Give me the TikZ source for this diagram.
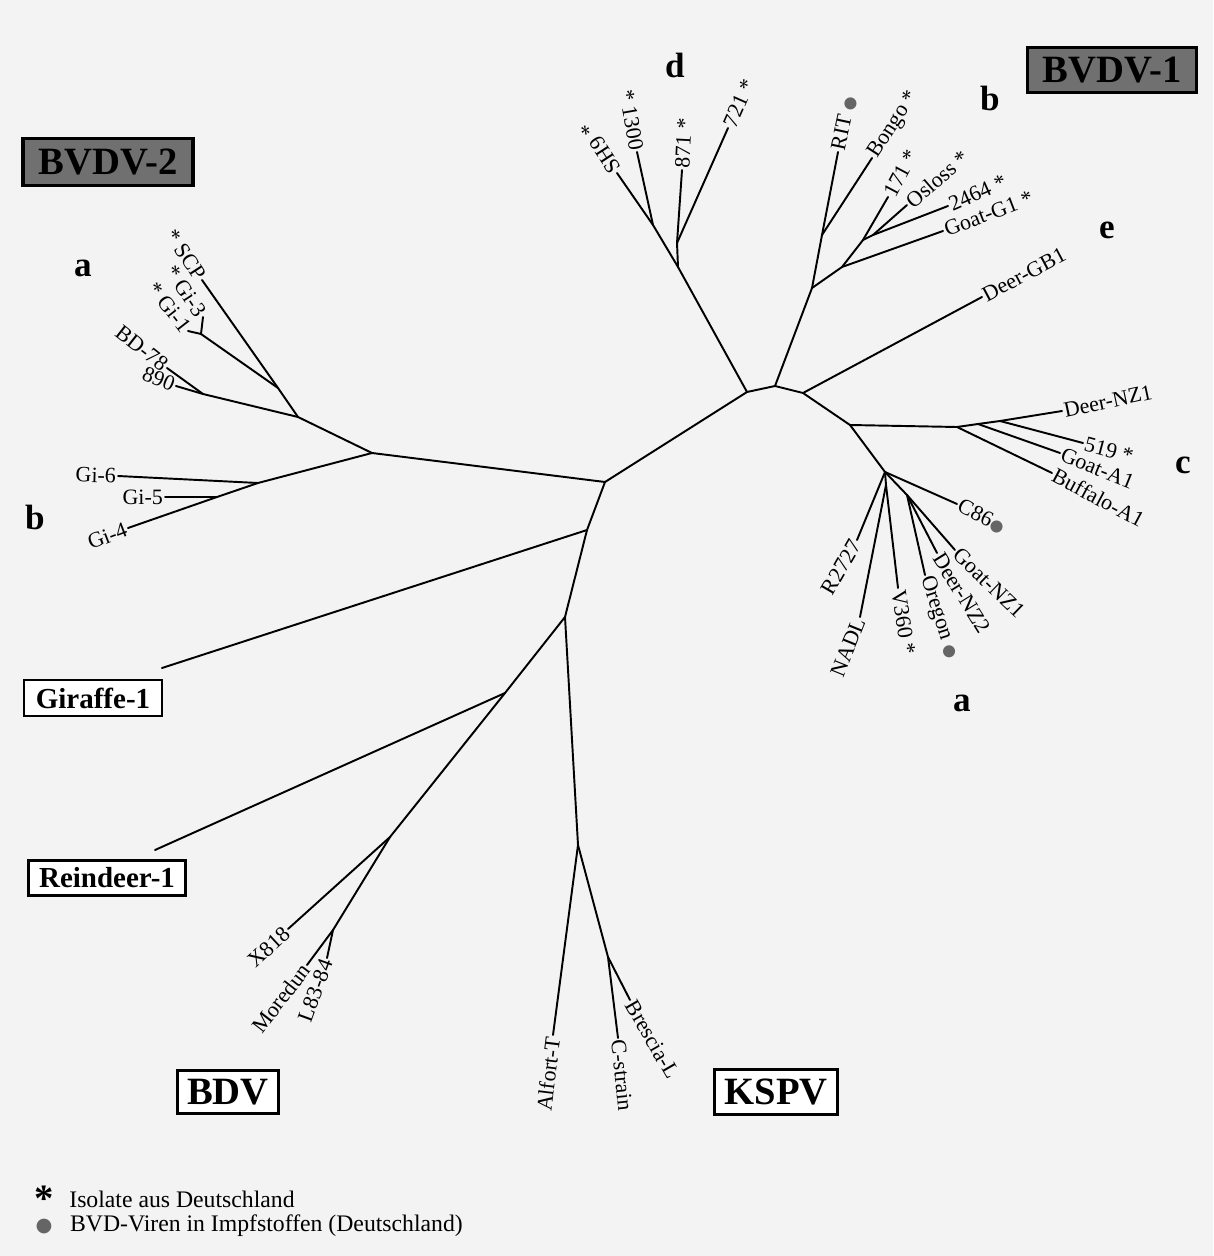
\documentclass[tikz,border=0pt]{standalone}
\usepackage{fontspec}
\setmainfont{Liberation Serif}
\newfontfamily\symfont{DejaVu Sans}
\usepackage{tikz}
\usetikzlibrary{positioning}
\definecolor{paper}{HTML}{F3F3F3}
\definecolor{boxgrey}{HTML}{707070}
\definecolor{dotgrey}{HTML}{656565}
\newcommand{\vacdot}{{\symfont\fontsize{9}{9}\selectfont\textcolor{dotgrey}{●}}}

\begin{document}
\begin{tikzpicture}[x=0.02cm, y=-0.02cm, branch/.style={line width=1.1pt, line cap=round, line join=round}, leaf/.style={inner sep=1pt, font=\fontsize{12.5}{14}\selectfont}, outleaf/.style={leaf, anchor=west}, inleaf/.style={leaf, anchor=east}, clade/.style={inner sep=0pt, font=\fontsize{20}{22}\selectfont\bfseries}, greybox/.style={draw=black, line width=1.8pt, fill=boxgrey, inner sep=0pt, font=\fontsize{22}{24}\selectfont\bfseries}, whitebox/.style={draw=black, line width=1.4pt, fill=white, inner sep=0pt, font=\fontsize{16.5}{18}\selectfont\bfseries}, bigbox/.style={whitebox, font=\fontsize{22}{24}\selectfont\bfseries}, legendtext/.style={inner sep=0pt, font=\fontsize{13.5}{15}\selectfont}]

    \fill[paper] (0,0) rectangle (1213,1256);
    \useasboundingbox (0,0) rectangle (1213,1256);

    %Group boxes
    \node[greybox, minimum width=3.4cm, minimum height=0.94cm](bvdv2_box) at (108,162) {BVDV-2};
    \node[greybox, minimum width=3.38cm, minimum height=0.9cm](bvdv1_box) at (1112,70) {BVDV-1};
    \node[whitebox, minimum width=2.76cm, minimum height=0.72cm](giraffe_box) at (93,698) {Giraffe-1};
    \node[whitebox, minimum width=3.14cm, minimum height=0.7cm](reindeer_box) at (107,878) {Reindeer-1};
    \node[bigbox, minimum width=2.02cm, minimum height=0.86cm](bdv_box) at (228,1092) {BDV};
    \node[bigbox, minimum width=2.46cm, minimum height=0.9cm](kspv_box) at (776,1092) {KSPV};

    %Clade letters
    \node[clade](tag_b2a) at (83,268) {a};
    \node[clade](tag_b2b) at (35,517) {b};
    \node[clade](tag_d) at (675,65) {d};
    \node[clade](tag_b1b) at (990,98) {b};
    \node[clade](tag_e) at (1107,230) {e};
    \node[clade](tag_c) at (1183,465) {c};
    \node[clade](tag_b1a) at (962,703) {a};

    %Inner points
    \coordinate (bvdv2_root) at (372,453);
    \coordinate (hub_left) at (605,482);
    \coordinate (hub_top) at (747,392);
    \coordinate (hub_b) at (775,386);
    \coordinate (hub_e) at (803,393);
    \coordinate (hub_c) at (850,425);
    \coordinate (clade_a) at (885,472);
    \coordinate (hub_giraffe) at (587,530);
    \coordinate (hub_low) at (565,617);
    \coordinate (hub_reindeer) at (505,693);
    \coordinate (bdv_root) at (390,837);
    \coordinate (bdv_sub) at (333,930);
    \coordinate (kspv_root) at (578,845);
    \coordinate (kspv_sub) at (608,957);
    \coordinate (b2a_root) at (298,417);
    \coordinate (b2a_scp) at (278,388);
    \coordinate (b2a_gi) at (201,334);
    \coordinate (b2a_bd) at (203,394);
    \coordinate (b2b_root) at (258,483);
    \coordinate (b2b_sub) at (217,497);
    \coordinate (d_root) at (678,267);
    \coordinate (d_left) at (653,225);
    \coordinate (d_right) at (677,243);
    \coordinate (b1_root) at (812,288);
    \coordinate (b1_rit) at (822,235);
    \coordinate (b1_goat) at (842,267);
    \coordinate (b1_171) at (863,240);
    \coordinate (b1_osloss) at (873,235);
    \coordinate (c_root) at (957,427);
    \coordinate (c_goat) at (978,424);
    \coordinate (c_519) at (1000,421);
    \coordinate (a_sub) at (886,485);
    \coordinate (a_oregon) at (907,495);

    %Leaf ends
    \coordinate (scp_end) at (202,280);
    \coordinate (gi3_end) at (203,317);
    \coordinate (gi1_end) at (188,331);
    \coordinate (bd78_end) at (167,368);
    \coordinate (n890_end) at (176,386);
    \coordinate (gi6_end) at (118,476);
    \coordinate (gi5_end) at (165,497);
    \coordinate (gi4_end) at (128,528);
    \coordinate (sh9_end) at (617,173);
    \coordinate (n1300_end) at (637,152);
    \coordinate (n871_end) at (682,170);
    \coordinate (n721_end) at (728,128);
    \coordinate (rit_end) at (838,152);
    \coordinate (bongo_end) at (872,158);
    \coordinate (n171_end) at (888,197);
    \coordinate (osloss_end) at (907,205);
    \coordinate (n2464_end) at (948,206);
    \coordinate (goatg1_end) at (943,231);
    \coordinate (deergb1_end) at (982,297);
    \coordinate (deernz1_end) at (1062,411);
    \coordinate (n519_end) at (1083,443);
    \coordinate (goata1_end) at (1060,453);
    \coordinate (buffalo_end) at (1052,473);
    \coordinate (c86_end) at (957,504);
    \coordinate (goatnz1_end) at (955,550);
    \coordinate (deernz2_end) at (937,553);
    \coordinate (oregon_end) at (925,575);
    \coordinate (v360_end) at (898,588);
    \coordinate (nadl_end) at (860,617);
    \coordinate (r2727_end) at (857,540);
    \coordinate (giraffe_end) at (162,668);
    \coordinate (reindeer_end) at (155,850);
    \coordinate (x818_end) at (288,929);
    \coordinate (moredun_end) at (307,965);
    \coordinate (l8384_end) at (327,958);
    \coordinate (alfort_end) at (553,1035);
    \coordinate (cstrain_end) at (618,1038);
    \coordinate (brescia_end) at (630,1000);

    %Labels
    \node[inleaf, rotate=-57](scp) at (scp_end) {* SCP};
    \node[inleaf, rotate=-57](gi3) at (gi3_end) {* Gi-3};
    \node[inleaf, rotate=-52](gi1) at (gi1_end) {* Gi-1};
    \node[inleaf, rotate=-38](bd78) at (bd78_end) {BD-78};
    \node[inleaf, rotate=-22](n890) at (n890_end) {890};
    \node[inleaf, rotate=-2](gi6) at (gi6_end) {Gi-6};
    \node[inleaf](gi5) at (gi5_end) {Gi-5};
    \node[inleaf, rotate=21](gi4) at (gi4_end) {Gi-4};
    \node[outleaf, rotate=123](sh9) at (sh9_end) {SH9 *};
    \node[inleaf, rotate=-80](n1300) at (n1300_end) {* 1300};
    \node[outleaf, rotate=87](n871) at (n871_end) {871 *};
    \node[outleaf, rotate=66](n721) at (n721_end) {721 *};
    \node[outleaf, rotate=78](rit) at (rit_end) {RIT~\vacdot};
    \node[outleaf, rotate=57](bongo) at (bongo_end) {Bongo *};
    \node[outleaf, rotate=62](n171) at (n171_end) {171 *};
    \node[outleaf, rotate=41](osloss) at (osloss_end) {Osloss *};
    \node[outleaf, rotate=24](n2464) at (n2464_end) {2464 *};
    \node[outleaf, rotate=21](goatg1) at (goatg1_end) {Goat-G1 *};
    \node[outleaf, rotate=28](deergb1) at (deergb1_end) {Deer-GB1};
    \node[outleaf, rotate=12](deernz1) at (deernz1_end) {Deer-NZ1};
    \node[outleaf, rotate=-15](n519) at (n519_end) {519 *};
    \node[outleaf, rotate=-22](goata1) at (goata1_end) {Goat-A1};
    \node[outleaf, rotate=-28](buffalo) at (buffalo_end) {Buffalo-A1};
    \node[outleaf, rotate=-27](c86) at (c86_end) {C86\vacdot};
    \node[outleaf, rotate=-44](goatnz1) at (goatnz1_end) {Goat-NZ1};
    \node[outleaf, rotate=-58](deernz2) at (deernz2_end) {Deer-NZ2};
    \node[outleaf, rotate=-72](oregon) at (oregon_end) {Oregon~\vacdot};
    \node[outleaf, rotate=-81](v360) at (v360_end) {V360 *};
    \node[inleaf, rotate=68](nadl) at (nadl_end) {NADL};
    \node[inleaf, rotate=60](r2727) at (r2727_end) {R2727};
    \node[inleaf, rotate=43](x818) at (x818_end) {X818};
    \node[inleaf, rotate=52](moredun) at (moredun_end) {Moredun};
    \node[inleaf, rotate=70](l8384) at (l8384_end) {L83-84};
    \node[inleaf, rotate=83](alfort) at (alfort_end) {Alfort-T};
    \node[outleaf, rotate=-84](cstrain) at (cstrain_end) {C-strain};
    \node[outleaf, rotate=-60](brescia) at (brescia_end) {Brescia-L};

    %Legend
    \node[inner sep=0pt, font=\fontsize{22}{22}\selectfont\bfseries](legend_star) at (44,1199) {*};
    \node[legendtext](legend_isolate)[right=0.3cm of legend_star]{Isolate aus Deutschland};
    \node[inner sep=0pt](legend_dot) at (44,1226) {\symfont\fontsize{11}{11}\selectfont\textcolor{dotgrey}{●}};
    \node[legendtext](legend_vaccine)[right=0.34cm of legend_dot]{BVD-Viren in Impfstoffen (Deutschland)};

    %Backbone
    \draw[branch] (bvdv2_root) -- (hub_left);
    \draw[branch] (hub_left) -- (hub_top);
    \draw[branch] (hub_top) -- (hub_b);
    \draw[branch] (hub_b) -- (hub_e);
    \draw[branch] (hub_e) -- (hub_c);
    \draw[branch] (hub_c) -- (clade_a);
    \draw[branch] (hub_left) -- (hub_giraffe);
    \draw[branch] (hub_giraffe) -- (hub_low);
    \draw[branch] (hub_low) -- (hub_reindeer);
    \draw[branch] (hub_reindeer) -- (bdv_root);
    \draw[branch] (hub_low) -- (kspv_root);

    %BVDV-2
    \draw[branch] (bvdv2_root) -- (b2a_root);
    \draw[branch] (b2a_root) -- (b2a_scp);
    \draw[branch] (b2a_scp) -- (scp_end);
    \draw[branch] (b2a_scp) -- (b2a_gi);
    \draw[branch] (b2a_gi) -- (gi3_end);
    \draw[branch] (b2a_gi) -- (gi1_end);
    \draw[branch] (b2a_root) -- (b2a_bd);
    \draw[branch] (b2a_bd) -- (bd78_end);
    \draw[branch] (b2a_bd) -- (n890_end);
    \draw[branch] (bvdv2_root) -- (b2b_root);
    \draw[branch] (b2b_root) -- (gi6_end);
    \draw[branch] (b2b_root) -- (b2b_sub);
    \draw[branch] (b2b_sub) -- (gi5_end);
    \draw[branch] (b2b_sub) -- (gi4_end);

    %BVDV-1 d
    \draw[branch] (hub_top) -- (d_root);
    \draw[branch] (d_root) -- (d_left);
    \draw[branch] (d_left) -- (sh9_end);
    \draw[branch] (d_left) -- (n1300_end);
    \draw[branch] (d_root) -- (d_right);
    \draw[branch] (d_right) -- (n871_end);
    \draw[branch] (d_right) -- (n721_end);

    %BVDV-1 b and e
    \draw[branch] (hub_b) -- (b1_root);
    \draw[branch] (b1_root) -- (b1_rit);
    \draw[branch] (b1_rit) -- (rit_end);
    \draw[branch] (b1_rit) -- (bongo_end);
    \draw[branch] (b1_root) -- (b1_goat);
    \draw[branch] (b1_goat) -- (goatg1_end);
    \draw[branch] (b1_goat) -- (b1_171);
    \draw[branch] (b1_171) -- (n171_end);
    \draw[branch] (b1_171) -- (b1_osloss);
    \draw[branch] (b1_osloss) -- (osloss_end);
    \draw[branch] (b1_osloss) -- (n2464_end);
    \draw[branch] (hub_e) -- (deergb1_end);

    %BVDV-1 c
    \draw[branch] (hub_c) -- (c_root);
    \draw[branch] (c_root) -- (buffalo_end);
    \draw[branch] (c_root) -- (c_goat);
    \draw[branch] (c_goat) -- (goata1_end);
    \draw[branch] (c_goat) -- (c_519);
    \draw[branch] (c_519) -- (n519_end);
    \draw[branch] (c_519) -- (deernz1_end);

    %BVDV-1 a
    \draw[branch] (clade_a) -- (r2727_end);
    \draw[branch] (clade_a) -- (a_sub);
    \draw[branch] (a_sub) -- (nadl_end);
    \draw[branch] (a_sub) -- (v360_end);
    \draw[branch] (clade_a) -- (a_oregon);
    \draw[branch] (a_oregon) -- (oregon_end);
    \draw[branch] (a_oregon) -- (deernz2_end);
    \draw[branch] (a_oregon) -- (goatnz1_end);
    \draw[branch] (clade_a) -- (c86_end);

    %Giraffe, Reindeer, BDV, KSPV
    \draw[branch] (hub_giraffe) -- (giraffe_end);
    \draw[branch] (hub_reindeer) -- (reindeer_end);
    \draw[branch] (bdv_root) -- (x818_end);
    \draw[branch] (bdv_root) -- (bdv_sub);
    \draw[branch] (bdv_sub) -- (moredun_end);
    \draw[branch] (bdv_sub) -- (l8384_end);
    \draw[branch] (kspv_root) -- (alfort_end);
    \draw[branch] (kspv_root) -- (kspv_sub);
    \draw[branch] (kspv_sub) -- (cstrain_end);
    \draw[branch] (kspv_sub) -- (brescia_end);

\end{tikzpicture}
\end{document}
